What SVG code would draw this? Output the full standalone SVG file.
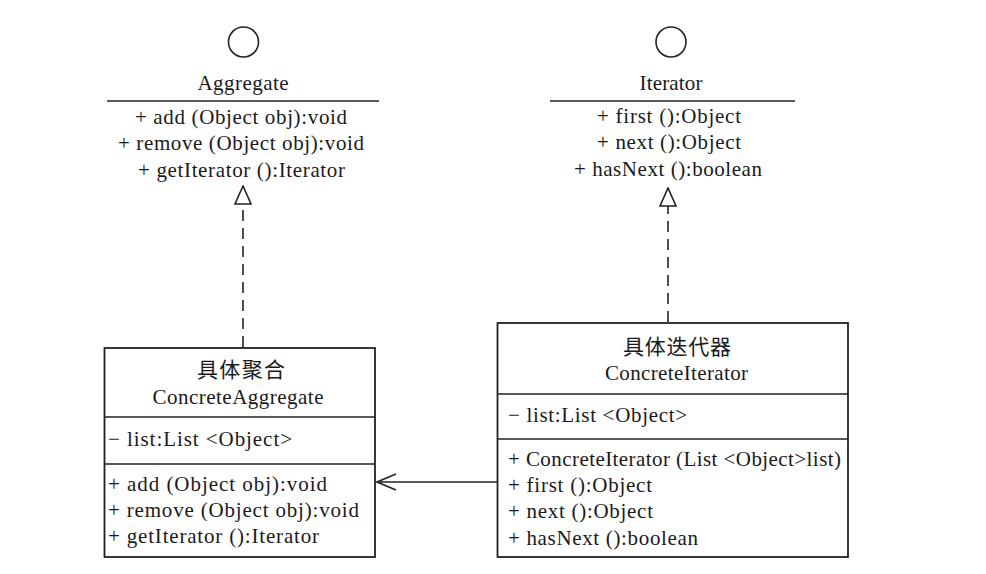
<svg xmlns="http://www.w3.org/2000/svg" width="986" height="574" viewBox="0 0 986 574">
<style>
  .bg{fill:#ffffff}
  .ln{stroke:#222;stroke-width:1.6;fill:none}
  .box{stroke:#222;stroke-width:1.8;fill:#ffffff}
  .t{font-family:"Liberation Serif","Times New Roman","Noto Sans CJK SC",serif;font-size:21px;fill:#1a1a1a}
  .c{text-anchor:middle}
  .cjk{font-family:"Noto Sans CJK SC","Liberation Serif",sans-serif;font-size:21px;fill:#1a1a1a;text-anchor:middle}
  .dash{stroke:#222;stroke-width:1.6;fill:none;stroke-dasharray:11 7}
</style>
<defs>
  <marker id="realize" viewBox="0 0 20 20" refX="19" refY="10" markerWidth="20" markerHeight="20" markerUnits="userSpaceOnUse" orient="auto">
    <path d="M19,10 L1,2 L1,18 Z" fill="#fff" stroke="#222" stroke-width="1.6"/>
  </marker>
  <marker id="open" viewBox="0 0 22 20" refX="21" refY="10" markerWidth="22" markerHeight="20" markerUnits="userSpaceOnUse" orient="auto">
    <path d="M2,2 L21,10 L2,18" fill="none" stroke="#222" stroke-width="1.6"/>
  </marker>
</defs>
<rect class="bg" x="0" y="0" width="986" height="574"/>

<g id="connectors">
  <line class="dash" x1="243" y1="347" x2="243" y2="186" marker-end="url(#realize)"/>
  <line class="dash" x1="668" y1="322" x2="668" y2="188" marker-end="url(#realize)"/>
  <line class="ln" x1="497" y1="482" x2="377" y2="482" marker-end="url(#open)"/>
</g>

<g id="aggregate">
  <circle class="ln" cx="243.5" cy="42" r="15"/>
  <text class="t c" x="243" y="90" textLength="91">Aggregate</text>
  <line class="ln" x1="107" y1="101" x2="379" y2="101"/>
  <text class="t c" x="241" y="124" textLength="212">+ add (Object obj):void</text>
  <text class="t c" x="241" y="150" textLength="246">+ remove (Object obj):void</text>
  <text class="t c" x="241.5" y="177" textLength="207">+ getIterator ():Iterator</text>
</g>

<g id="iterator">
  <circle class="ln" cx="671" cy="42" r="15"/>
  <text class="t c" x="671" y="90" textLength="63">Iterator</text>
  <line class="ln" x1="550" y1="101" x2="795" y2="101"/>
  <text class="t c" x="669" y="123" textLength="144">+ first ():Object</text>
  <text class="t c" x="669" y="149" textLength="144">+ next ():Object</text>
  <text class="t c" x="668" y="176" textLength="188">+ hasNext ():boolean</text>
</g>

<g id="concrete-aggregate">
  <rect class="box" x="104.5" y="348" width="270.5" height="209"/>
  <line class="ln" x1="104.5" y1="417" x2="375" y2="417"/>
  <line class="ln" x1="104.5" y1="464" x2="375" y2="464"/>
  <text class="cjk" x="241" y="377" textLength="88">具体聚合</text>
  <text class="t c" x="238" y="404" textLength="171">ConcreteAggregate</text>
  <text class="t" x="108" y="446" textLength="184">− list:List &lt;Object&gt;</text>
  <text class="t" x="108" y="491" textLength="219">+ add (Object obj):void</text>
  <text class="t" x="108" y="517" textLength="251">+ remove (Object obj):void</text>
  <text class="t" x="108" y="543" textLength="211">+ getIterator ():Iterator</text>
</g>

<g id="concrete-iterator">
  <rect class="box" x="497.5" y="323" width="350.5" height="234"/>
  <line class="ln" x1="497.5" y1="394" x2="848" y2="394"/>
  <line class="ln" x1="497.5" y1="439" x2="848" y2="439"/>
  <text class="cjk" x="677" y="354" textLength="108">具体迭代器</text>
  <text class="t c" x="676.5" y="380" textLength="143">ConcreteIterator</text>
  <text class="t" x="508" y="422" textLength="179">− list:List &lt;Object&gt;</text>
  <text class="t" x="508" y="466" textLength="333">+ ConcreteIterator (List &lt;Object&gt;list)</text>
  <text class="t" x="508" y="492" textLength="144">+ first ():Object</text>
  <text class="t" x="508" y="518" textLength="145">+ next ():Object</text>
  <text class="t" x="508" y="545" textLength="190">+ hasNext ():boolean</text>
</g>
</svg>
